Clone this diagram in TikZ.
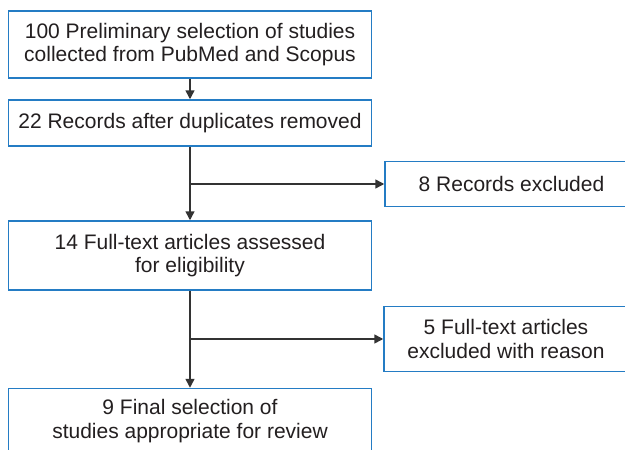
\documentclass[tikz,border=0pt]{standalone}
\usepackage{fontspec}
\setmainfont{Liberation Sans}
\usetikzlibrary{arrows.meta}
\definecolor{boxblue}{RGB}{36,124,196}
\definecolor{linegray}{RGB}{51,51,51}
\definecolor{txtgray}{RGB}{35,31,32}
\tikzset{
  flowbox/.style={draw=boxblue, line width=1.5pt, fill=white, rectangle, inner sep=0pt,
    align=center, text=txtgray, font=\fontsize{21pt}{23.5pt}\selectfont},
  conn/.style={draw=linegray, line width=1.5pt, -{Triangle[length=9pt,width=9pt]}},
}
\begin{document}
\begin{tikzpicture}[x=1pt,y=-1pt]
\useasboundingbox (0,0) rectangle (625,450);
\clip (0,0) rectangle (625,450);
\node[flowbox, minimum width=363pt, minimum height=67pt] (b1) at (190,44.5)
  {100 Preliminary selection of studies\\collected from PubMed and Scopus};
\node[flowbox, minimum width=363pt, minimum height=46pt] (b2) at (190,123)
  {22 Records after duplicates removed};
\node[flowbox, minimum width=253pt, minimum height=45pt] (b3) at (511.5,184)
  {8 Records excluded};
\node[flowbox, minimum width=363pt, minimum height=69pt] (b4) at (190,255.5)
  {14 Full-text articles assessed\\for eligibility};
\node[flowbox, minimum width=244pt, minimum height=65pt] (b5) at (506,339)
  {5 Full-text articles\\excluded with reason};
\node[flowbox, minimum width=363pt, minimum height=65pt] (b6) at (190,421)
  {9 Final selection of\\studies appropriate for review};
\draw[conn] (b1.south) -- (b2.north);
\draw[conn] (b2.south) -- (b4.north);
\coordinate (j1) at (b3.west -| b2.south);
\draw[conn] (j1) -- (b3.west);
\draw[conn] (b4.south) -- (b6.north);
\coordinate (j2) at (b5.west -| b4.south);
\draw[conn] (j2) -- (b5.west);
\end{tikzpicture}
\end{document}
